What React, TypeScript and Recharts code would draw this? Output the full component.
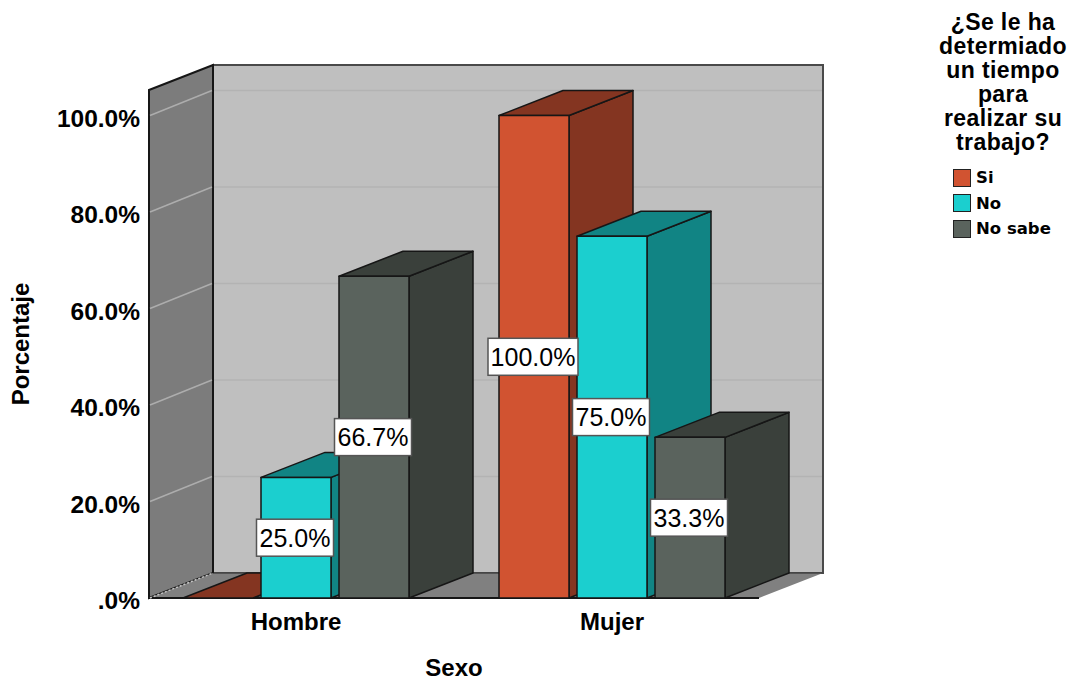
import { Bar, BarChart, CartesianGrid, LabelList, Legend, ReferenceArea, XAxis, YAxis } from 'recharts'

const categories = ['Hombre', 'Mujer']
const siValues = [0, 100]
const noValues = [25, 75]
const noSabeValues = [66.7, 33.3]
const yTicks = [0, 20, 40, 60, 80, 100]
const legendTitle = ['¿Se le ha', 'determiado', 'un tiempo', 'para', 'realizar su', 'trabajo?']

const chartData = categories.map((sexo, i) => ({
  sexo,
  si: siValues[i],
  no: noValues[i],
  noSabe: noSabeValues[i],
}))

const Y_MAX = 105.3
const DEPTH_X = 64
const DEPTH_Y = 25
// the x axis runs past the box on both sides so the two groups sit wider apart
const AXIS_OVERHANG = 11
const FONT = '"Liberation Sans", Arial, sans-serif'
const EDGE = '#161616'

const sideColors: Record<string, string> = {
  '#d15331': '#843521',
  '#1bcfcf': '#118484',
  '#5a635d': '#3a403b',
}

// back wall, left wall and floor of the box
function Walls({ x: rawX, y, width: rawWidth, height }: any) {
  const x = rawX + AXIS_OVERHANG
  const width = rawWidth - AXIS_OVERHANG * 2
  const bottom = y + height
  const right = x + width
  return (
    <g>
      <rect x={x + DEPTH_X} y={y - DEPTH_Y} width={width} height={height} fill="#bfbfbf" stroke="#4a4a4a" strokeWidth={2} />
      <polygon
        points={`${x},${y} ${x + DEPTH_X},${y - DEPTH_Y} ${x + DEPTH_X},${bottom - DEPTH_Y} ${x},${bottom}`}
        fill="#7c7c7c"
        stroke={EDGE}
        strokeWidth={2}
      />
      <polygon
        points={`${x},${bottom} ${x + DEPTH_X},${bottom - DEPTH_Y} ${right + DEPTH_X},${bottom - DEPTH_Y} ${right},${bottom}`}
        fill="#808080"
      />
      <line x1={x + DEPTH_X} y1={bottom - DEPTH_Y} x2={right + DEPTH_X} y2={bottom - DEPTH_Y} stroke="#444" strokeWidth={1.5} />
      <line x1={x + DEPTH_X} y1={y - DEPTH_Y} x2={x + DEPTH_X} y2={bottom - DEPTH_Y} stroke={EDGE} strokeWidth={2} />
      <line x1={x} y1={bottom} x2={right} y2={bottom} stroke={EDGE} strokeWidth={2} />
    </g>
  )
}

// gridline that folds from the left wall onto the back wall
function WallGridLine({ x1, x2, y1, index }: any) {
  if (index === 0) {
    return <line x1={x1 + 1} y1={y1} x2={x1 + DEPTH_X} y2={y1 - DEPTH_Y} stroke="#c4c4c4" strokeWidth={1.5} strokeDasharray="2 2" />
  }
  return (
    <g>
      <line x1={x1 + 1} y1={y1} x2={x1 + DEPTH_X - 1} y2={y1 - DEPTH_Y} stroke="#adadad" strokeWidth={1.5} />
      <line x1={x1 + DEPTH_X + 1} y1={y1 - DEPTH_Y} x2={x2 + DEPTH_X - 1} y2={y1 - DEPTH_Y} stroke="#b3b3b3" strokeWidth={1.5} />
    </g>
  )
}

function Bar3D({ x, y, width, height, fill }: any) {
  const right = x + width
  const bottom = y + height
  const side = sideColors[fill]
  return (
    <g stroke={EDGE} strokeWidth={1.5} strokeLinejoin="round">
      <polygon
        points={`${right},${y} ${right + DEPTH_X},${y - DEPTH_Y} ${right + DEPTH_X},${bottom - DEPTH_Y} ${right},${bottom}`}
        fill={side}
      />
      <polygon
        points={`${x},${y} ${x + DEPTH_X},${y - DEPTH_Y} ${right + DEPTH_X},${y - DEPTH_Y} ${right},${y}`}
        fill={side}
      />
      <rect x={x} y={y} width={width} height={height} fill={fill} />
    </g>
  )
}

function ValueTag({ x, y, width, height, value }: any) {
  if (!value) return null
  const cx = x + width / 2 - 1
  const cy = y + height / 2
  const boxW = value >= 100 ? 90 : 77
  return (
    <g>
      <rect x={cx - boxW / 2} y={cy - 18.5} width={boxW} height={37} fill="#fff" stroke="#555" strokeWidth={1.5} />
      <text x={cx} y={cy + 9} textAnchor="middle" fontFamily={FONT} fontSize={25} fill="#000">
        {value.toFixed(1)}%
      </text>
    </g>
  )
}

function SwatchLegend({ payload }: any) {
  return (
    <div style={{ width: 136, fontFamily: FONT, textAlign: 'center', color: '#000' }}>
      <div style={{ fontSize: 23, letterSpacing: 0.4, fontWeight: 700, lineHeight: '24px', marginBottom: 11 }}>
        {legendTitle.map((line) => (
          <div key={line}>{line}</div>
        ))}
      </div>
      {(payload ?? []).map((entry: any) => (
        <div key={entry.value} style={{ display: 'flex', alignItems: 'center', height: 25.5, marginLeft: 18, textAlign: 'left' }}>
          <span style={{ width: 16, height: 16, background: entry.color, border: '1.5px solid #222', marginRight: 5, flex: 'none' }} />
          <span style={{ fontFamily: '"DejaVu Sans", sans-serif', fontWeight: 700, fontSize: 16.5 }}>{entry.value}</span>
        </div>
      ))}
    </div>
  )
}

// y axis label pushed down a little so the text lines up with its gridline
function YTick({ x, y, payload }: any) {
  const v = payload.value
  return (
    <text x={x} y={y + 11} textAnchor="end" fill="#000" fontSize={24.5} fontWeight={700} fontFamily={FONT}>
      {v === 0 ? '.0%' : `${v.toFixed(1)}%`}
    </text>
  )
}

export default function App() {
  return (
    <div style={{ position: 'absolute', left: 0, top: 0, background: '#fff' }}>
      <BarChart
        width={1072}
        height={681}
        data={chartData}
        margin={{ top: 90, right: 313, left: 0, bottom: 0 }}
        barSize={70}
        barGap={8}
        barCategoryGap={0}
      >
        <ReferenceArea y1={0} y2={Y_MAX} shape={<Walls />} ifOverflow="extendDomain" zIndex={-200} />
        <CartesianGrid vertical={false} horizontal={(p: any) => <WallGridLine {...p} />} syncWithTicks />
        <XAxis
          dataKey="sexo"
          height={83}
          padding={{ left: -AXIS_OVERHANG, right: -AXIS_OVERHANG }}
          axisLine={false}
          tickLine={false}
          tickSize={0}
          tickMargin={15}
          tick={{ fill: '#000', fontSize: 24, fontWeight: 700, fontFamily: FONT }}
          label={{ value: 'Sexo', position: 'insideBottom', offset: 5, fill: '#000', fontSize: 24, fontWeight: 700, fontFamily: FONT }}
        />
        <YAxis
          width={149}
          domain={[0, Y_MAX]}
          ticks={yTicks}
          axisLine={false}
          tickLine={false}
          tickSize={0}
          tickMargin={9}
          tick={<YTick />}
          label={{ value: 'Porcentaje', angle: -90, position: 'insideLeft', offset: 20, fill: '#000', fontSize: 24, fontWeight: 700, fontFamily: FONT, style: { textAnchor: 'middle' } }}
        />
        <Legend
          layout="vertical"
          align="center"
          verticalAlign="middle"
          itemSorter={null}
          content={<SwatchLegend />}
          wrapperStyle={{ left: 935, top: 10, width: 136, right: 'auto', bottom: 'auto' }}
        />
        <Bar dataKey="si" name="Si" fill="#d15331" shape={<Bar3D />} isAnimationActive={false}>
          <LabelList dataKey="si" content={<ValueTag />} />
        </Bar>
        <Bar dataKey="no" name="No" fill="#1bcfcf" shape={<Bar3D />} isAnimationActive={false}>
          <LabelList dataKey="no" content={<ValueTag />} />
        </Bar>
        <Bar dataKey="noSabe" name="No sabe" fill="#5a635d" shape={<Bar3D />} isAnimationActive={false}>
          <LabelList dataKey="noSabe" content={<ValueTag />} />
        </Bar>
      </BarChart>
    </div>
  )
}
